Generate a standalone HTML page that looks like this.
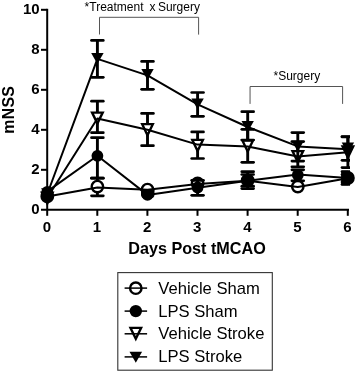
<!DOCTYPE html>
<html><head><meta charset="utf-8"><title>mNSS</title>
<style>
html,body{margin:0;padding:0;background:#fff;}
svg{display:block;}
text{font-family:"Liberation Sans",Arial,sans-serif;fill:#000;}
.tk{font-size:15px;font-weight:bold;}
.ax{font-size:16.2px;font-weight:bold;}
.an{font-size:12px;}
.lg{font-size:16.6px;}
</style></head><body>
<svg width="359" height="374" viewBox="0 0 359 374">
<rect width="359" height="374" fill="#fff"/>
<path d="M47.2 8.8V215.8" stroke="#000" stroke-width="2" fill="none"/>
<path d="M41 209.8H349" stroke="#000" stroke-width="2" fill="none"/>
<defs><clipPath id="clipR"><rect x="0" y="0" width="350" height="374"/></clipPath></defs>
<line x1="97.40" y1="178.20" x2="97.40" y2="195.80" stroke="#000" stroke-width="2.9" stroke-linecap="butt"/>
<line x1="91.50" y1="178.20" x2="103.30" y2="178.20" stroke="#000" stroke-width="2.7" stroke-linecap="round"/>
<line x1="91.50" y1="195.80" x2="103.30" y2="195.80" stroke="#000" stroke-width="2.7" stroke-linecap="round"/>
<line x1="247.70" y1="171.70" x2="247.70" y2="188.60" stroke="#000" stroke-width="2.9" stroke-linecap="butt"/>
<line x1="241.80" y1="171.70" x2="253.60" y2="171.70" stroke="#000" stroke-width="2.7" stroke-linecap="round"/>
<line x1="241.80" y1="188.60" x2="253.60" y2="188.60" stroke="#000" stroke-width="2.7" stroke-linecap="round"/>
<g clip-path="url(#clipR)">
<line x1="347.90" y1="174.50" x2="347.90" y2="182.00" stroke="#000" stroke-width="2.9" stroke-linecap="butt"/>
<line x1="342.00" y1="174.50" x2="353.80" y2="174.50" stroke="#000" stroke-width="2.7" stroke-linecap="round"/>
<line x1="342.00" y1="182.00" x2="353.80" y2="182.00" stroke="#000" stroke-width="2.7" stroke-linecap="round"/>
</g>
<circle cx="47.30" cy="196.40" r="5.7" fill="#fff" stroke="#000" stroke-width="2.4"/>
<circle cx="97.40" cy="186.60" r="5.7" fill="#fff" stroke="#000" stroke-width="2.4"/>
<circle cx="147.50" cy="189.60" r="5.7" fill="#fff" stroke="#000" stroke-width="2.4"/>
<circle cx="197.60" cy="183.40" r="5.7" fill="#fff" stroke="#000" stroke-width="2.4"/>
<circle cx="247.70" cy="180.30" r="5.7" fill="#fff" stroke="#000" stroke-width="2.4"/>
<circle cx="297.80" cy="186.60" r="5.7" fill="#fff" stroke="#000" stroke-width="2.4"/>
<circle cx="347.90" cy="178.00" r="5.7" fill="#fff" stroke="#000" stroke-width="2.4"/>
<polyline points="47.30,196.40 97.40,187.40 147.50,189.80 197.60,184.10 247.70,180.80 297.80,187.00 347.90,178.20" fill="none" stroke="#000" stroke-width="2" stroke-linejoin="round"/>
<line x1="97.40" y1="137.70" x2="97.40" y2="178.20" stroke="#000" stroke-width="2.9" stroke-linecap="butt"/>
<line x1="91.50" y1="137.70" x2="103.30" y2="137.70" stroke="#000" stroke-width="2.7" stroke-linecap="round"/>
<line x1="91.50" y1="178.20" x2="103.30" y2="178.20" stroke="#000" stroke-width="2.7" stroke-linecap="round"/>
<line x1="197.60" y1="180.30" x2="197.60" y2="195.30" stroke="#000" stroke-width="2.9" stroke-linecap="butt"/>
<line x1="191.70" y1="180.30" x2="203.50" y2="180.30" stroke="#000" stroke-width="2.7" stroke-linecap="round"/>
<line x1="191.70" y1="195.30" x2="203.50" y2="195.30" stroke="#000" stroke-width="2.7" stroke-linecap="round"/>
<line x1="247.70" y1="174.50" x2="247.70" y2="186.20" stroke="#000" stroke-width="2.9" stroke-linecap="butt"/>
<line x1="241.80" y1="174.50" x2="253.60" y2="174.50" stroke="#000" stroke-width="2.7" stroke-linecap="round"/>
<line x1="241.80" y1="186.20" x2="253.60" y2="186.20" stroke="#000" stroke-width="2.7" stroke-linecap="round"/>
<line x1="297.80" y1="169.80" x2="297.80" y2="180.80" stroke="#000" stroke-width="2.9" stroke-linecap="butt"/>
<line x1="291.90" y1="169.80" x2="303.70" y2="169.80" stroke="#000" stroke-width="2.7" stroke-linecap="round"/>
<line x1="291.90" y1="180.80" x2="303.70" y2="180.80" stroke="#000" stroke-width="2.7" stroke-linecap="round"/>
<g clip-path="url(#clipR)">
<line x1="347.90" y1="171.60" x2="347.90" y2="184.40" stroke="#000" stroke-width="2.9" stroke-linecap="butt"/>
<line x1="342.00" y1="171.60" x2="353.80" y2="171.60" stroke="#000" stroke-width="2.7" stroke-linecap="round"/>
<line x1="342.00" y1="184.40" x2="353.80" y2="184.40" stroke="#000" stroke-width="2.7" stroke-linecap="round"/>
</g>
<circle cx="47.30" cy="192.00" r="5.9" fill="#000"/>
<circle cx="97.40" cy="155.80" r="5.9" fill="#000"/>
<circle cx="147.50" cy="194.90" r="5.9" fill="#000"/>
<circle cx="197.60" cy="187.50" r="5.9" fill="#000"/>
<circle cx="247.70" cy="180.70" r="5.9" fill="#000"/>
<circle cx="297.80" cy="175.00" r="5.9" fill="#000"/>
<circle cx="347.90" cy="178.00" r="5.9" fill="#000"/>
<polyline points="47.30,191.40 97.40,155.80 147.50,194.90 197.60,187.80 247.70,180.70 297.80,174.60 347.90,178.00" fill="none" stroke="#000" stroke-width="2" stroke-linejoin="round"/>
<path d="M141 188.9H154.5V194.5Q154.5 198 151 198.5H144.5Q141 198 141 194.5Z" fill="#000"/>
<path d="M341.2 171.2Q341.2 170.7 342 170.7H348V185.3H342Q341.2 185.3 341.2 184.6Z" fill="#000"/>
<line x1="97.40" y1="101.20" x2="97.40" y2="132.70" stroke="#000" stroke-width="2.9" stroke-linecap="butt"/>
<line x1="91.50" y1="101.20" x2="103.30" y2="101.20" stroke="#000" stroke-width="2.7" stroke-linecap="round"/>
<line x1="91.50" y1="132.70" x2="103.30" y2="132.70" stroke="#000" stroke-width="2.7" stroke-linecap="round"/>
<line x1="147.50" y1="113.40" x2="147.50" y2="145.70" stroke="#000" stroke-width="2.9" stroke-linecap="butt"/>
<line x1="141.60" y1="113.40" x2="153.40" y2="113.40" stroke="#000" stroke-width="2.7" stroke-linecap="round"/>
<line x1="141.60" y1="145.70" x2="153.40" y2="145.70" stroke="#000" stroke-width="2.7" stroke-linecap="round"/>
<line x1="197.60" y1="131.90" x2="197.60" y2="158.50" stroke="#000" stroke-width="2.9" stroke-linecap="butt"/>
<line x1="191.70" y1="131.90" x2="203.50" y2="131.90" stroke="#000" stroke-width="2.7" stroke-linecap="round"/>
<line x1="191.70" y1="158.50" x2="203.50" y2="158.50" stroke="#000" stroke-width="2.7" stroke-linecap="round"/>
<line x1="247.70" y1="129.30" x2="247.70" y2="162.30" stroke="#000" stroke-width="2.9" stroke-linecap="butt"/>
<line x1="241.80" y1="129.30" x2="253.60" y2="129.30" stroke="#000" stroke-width="2.7" stroke-linecap="round"/>
<line x1="241.80" y1="162.30" x2="253.60" y2="162.30" stroke="#000" stroke-width="2.7" stroke-linecap="round"/>
<line x1="297.80" y1="141.60" x2="297.80" y2="166.80" stroke="#000" stroke-width="2.9" stroke-linecap="butt"/>
<line x1="291.90" y1="141.60" x2="303.70" y2="141.60" stroke="#000" stroke-width="2.7" stroke-linecap="round"/>
<line x1="291.90" y1="166.80" x2="303.70" y2="166.80" stroke="#000" stroke-width="2.7" stroke-linecap="round"/>
<g clip-path="url(#clipR)">
<line x1="347.90" y1="136.50" x2="347.90" y2="167.60" stroke="#000" stroke-width="2.9" stroke-linecap="butt"/>
<line x1="342.00" y1="136.50" x2="353.80" y2="136.50" stroke="#000" stroke-width="2.7" stroke-linecap="round"/>
<line x1="342.00" y1="167.60" x2="353.80" y2="167.60" stroke="#000" stroke-width="2.7" stroke-linecap="round"/>
</g>
<path d="M42.00 192.60H52.60L47.30 203.60Z" fill="#fff" stroke="#000" stroke-width="2.4" stroke-linejoin="miter"/>
<path d="M92.10 112.60H102.70L97.40 123.60Z" fill="#fff" stroke="#000" stroke-width="2.4" stroke-linejoin="miter"/>
<path d="M142.20 124.15H152.80L147.50 135.15Z" fill="#fff" stroke="#000" stroke-width="2.4" stroke-linejoin="miter"/>
<path d="M192.30 139.90H202.90L197.60 150.90Z" fill="#fff" stroke="#000" stroke-width="2.4" stroke-linejoin="miter"/>
<path d="M242.40 140.50H253.00L247.70 151.50Z" fill="#fff" stroke="#000" stroke-width="2.4" stroke-linejoin="miter"/>
<path d="M292.50 151.10H303.10L297.80 162.10Z" fill="#fff" stroke="#000" stroke-width="2.4" stroke-linejoin="miter"/>
<path d="M342.60 146.45H353.20L347.90 157.45Z" fill="#000" stroke="#000" stroke-width="2.4" stroke-linejoin="miter"/>
<polyline points="47.30,197.80 97.40,118.50 147.50,129.70 197.60,144.60 247.70,146.50 297.80,156.50 347.90,152.30" fill="none" stroke="#000" stroke-width="2" stroke-linejoin="round"/>
<ellipse cx="47.3" cy="195" rx="6.3" ry="7.6" fill="#000"/>
<line x1="97.40" y1="40.40" x2="97.40" y2="77.30" stroke="#000" stroke-width="2.9" stroke-linecap="butt"/>
<line x1="91.50" y1="40.40" x2="103.30" y2="40.40" stroke="#000" stroke-width="2.7" stroke-linecap="round"/>
<line x1="91.50" y1="77.30" x2="103.30" y2="77.30" stroke="#000" stroke-width="2.7" stroke-linecap="round"/>
<line x1="147.50" y1="61.40" x2="147.50" y2="89.30" stroke="#000" stroke-width="2.9" stroke-linecap="butt"/>
<line x1="141.60" y1="61.40" x2="153.40" y2="61.40" stroke="#000" stroke-width="2.7" stroke-linecap="round"/>
<line x1="141.60" y1="89.30" x2="153.40" y2="89.30" stroke="#000" stroke-width="2.7" stroke-linecap="round"/>
<line x1="197.60" y1="92.50" x2="197.60" y2="116.30" stroke="#000" stroke-width="2.9" stroke-linecap="butt"/>
<line x1="191.70" y1="92.50" x2="203.50" y2="92.50" stroke="#000" stroke-width="2.7" stroke-linecap="round"/>
<line x1="191.70" y1="116.30" x2="203.50" y2="116.30" stroke="#000" stroke-width="2.7" stroke-linecap="round"/>
<line x1="247.70" y1="111.70" x2="247.70" y2="140.00" stroke="#000" stroke-width="2.9" stroke-linecap="butt"/>
<line x1="241.80" y1="111.70" x2="253.60" y2="111.70" stroke="#000" stroke-width="2.7" stroke-linecap="round"/>
<line x1="241.80" y1="140.00" x2="253.60" y2="140.00" stroke="#000" stroke-width="2.7" stroke-linecap="round"/>
<line x1="297.80" y1="132.60" x2="297.80" y2="161.10" stroke="#000" stroke-width="2.9" stroke-linecap="butt"/>
<line x1="291.90" y1="132.60" x2="303.70" y2="132.60" stroke="#000" stroke-width="2.7" stroke-linecap="round"/>
<line x1="291.90" y1="161.10" x2="303.70" y2="161.10" stroke="#000" stroke-width="2.7" stroke-linecap="round"/>
<g clip-path="url(#clipR)">
<line x1="347.90" y1="136.90" x2="347.90" y2="160.30" stroke="#000" stroke-width="2.9" stroke-linecap="butt"/>
<line x1="342.00" y1="136.90" x2="353.80" y2="136.90" stroke="#000" stroke-width="2.7" stroke-linecap="round"/>
<line x1="342.00" y1="160.30" x2="353.80" y2="160.30" stroke="#000" stroke-width="2.7" stroke-linecap="round"/>
</g>
<path d="M41.10 188.20H53.50L47.30 199.10Z" fill="#000"/>
<path d="M91.20 53.00H103.60L97.40 63.90Z" fill="#000"/>
<path d="M141.30 69.10H153.70L147.50 80.00Z" fill="#000"/>
<path d="M191.40 98.40H203.80L197.60 109.30Z" fill="#000"/>
<path d="M241.50 121.00H253.90L247.70 131.90Z" fill="#000"/>
<path d="M291.60 140.70H304.00L297.80 151.60Z" fill="#000"/>
<path d="M341.70 142.50H354.10L347.90 153.40Z" fill="#000"/>
<polyline points="47.30,194.00 97.40,58.90 147.50,75.40 197.60,104.40 247.70,127.00 297.80,146.40 347.90,149.30" fill="none" stroke="#000" stroke-width="2" stroke-linejoin="round"/>
<text x="39.6" y="214.4" text-anchor="end" class="tk">0</text>
<path d="M41 169.8H47.2" stroke="#000" stroke-width="2"/>
<text x="39.6" y="174.4" text-anchor="end" class="tk">2</text>
<path d="M41 129.8H47.2" stroke="#000" stroke-width="2"/>
<text x="39.6" y="134.4" text-anchor="end" class="tk">4</text>
<path d="M41 89.80000000000001H47.2" stroke="#000" stroke-width="2"/>
<text x="39.6" y="94.4" text-anchor="end" class="tk">6</text>
<path d="M41 49.80000000000001H47.2" stroke="#000" stroke-width="2"/>
<text x="39.6" y="54.40000000000001" text-anchor="end" class="tk">8</text>
<path d="M41 9.800000000000011H47.2" stroke="#000" stroke-width="2"/>
<text x="39.6" y="14.400000000000011" text-anchor="end" class="tk">10</text>
<text x="46.900000000000006" y="232" text-anchor="middle" class="tk">0</text>
<path d="M97.30000000000001 209.8V215.8" stroke="#000" stroke-width="2"/>
<text x="97.00000000000001" y="232" text-anchor="middle" class="tk">1</text>
<path d="M147.4 209.8V215.8" stroke="#000" stroke-width="2"/>
<text x="147.1" y="232" text-anchor="middle" class="tk">2</text>
<path d="M197.5 209.8V215.8" stroke="#000" stroke-width="2"/>
<text x="197.2" y="232" text-anchor="middle" class="tk">3</text>
<path d="M247.60000000000002 209.8V215.8" stroke="#000" stroke-width="2"/>
<text x="247.3" y="232" text-anchor="middle" class="tk">4</text>
<path d="M297.7 209.8V215.8" stroke="#000" stroke-width="2"/>
<text x="297.4" y="232" text-anchor="middle" class="tk">5</text>
<path d="M347.8 209.8V215.8" stroke="#000" stroke-width="2"/>
<text x="347.5" y="232" text-anchor="middle" class="tk">6</text>
<text transform="translate(13.9,109.8) rotate(-90)" text-anchor="middle" class="ax" style="font-size:15.8px;letter-spacing:0.3px">mNSS</text>
<text x="197" y="253.5" text-anchor="middle" class="ax">Days Post tMCAO</text>
<path d="M99.5 34.5V17.3H198.6V34.6" stroke="#555" stroke-width="1" fill="none"/>
<text x="84.6" y="10.8" class="an">*Treatment<tspan dx="2.6"> x</tspan><tspan dx="-0.9"> Surgery</tspan></text>
<path d="M250.05 103.9V86.5H342.6V103.9" stroke="#555" stroke-width="1" fill="none"/>
<text x="273.5" y="80" class="an">*Surgery</text>
<rect x="117.8" y="272.6" width="154.5" height="97.6" fill="#fff" stroke="#333" stroke-width="1.1"/>
<circle cx="135.8" cy="288.20000000000005" r="5.7" fill="#fff" stroke="#000" stroke-width="2.4"/>
<path d="M124.6 288.1H147.1" stroke="#000" stroke-width="1.5"/>
<text x="158.3" y="293.5" class="lg">Vehicle Sham</text>
<circle cx="135.8" cy="311.1" r="6.2" fill="#000"/>
<path d="M124.6 311.1H147.1" stroke="#000" stroke-width="1.5"/>
<text x="158.3" y="316.6" class="lg">LPS Sham</text>
<path d="M130.5 327.9H141.10000000000002L135.8 338.85Z" fill="#fff" stroke="#000" stroke-width="2.4"/>
<path d="M124.6 333.8H147.1" stroke="#000" stroke-width="1.5"/>
<text x="158.3" y="339.3" class="lg">Vehicle Stroke</text>
<path d="M129.5 351.7H142.10000000000002L135.8 362.8Z" fill="#000"/>
<path d="M124.6 356.9H147.1" stroke="#000" stroke-width="1.5"/>
<text x="158.3" y="362.4" class="lg">LPS Stroke</text>
</svg>
</body></html>
